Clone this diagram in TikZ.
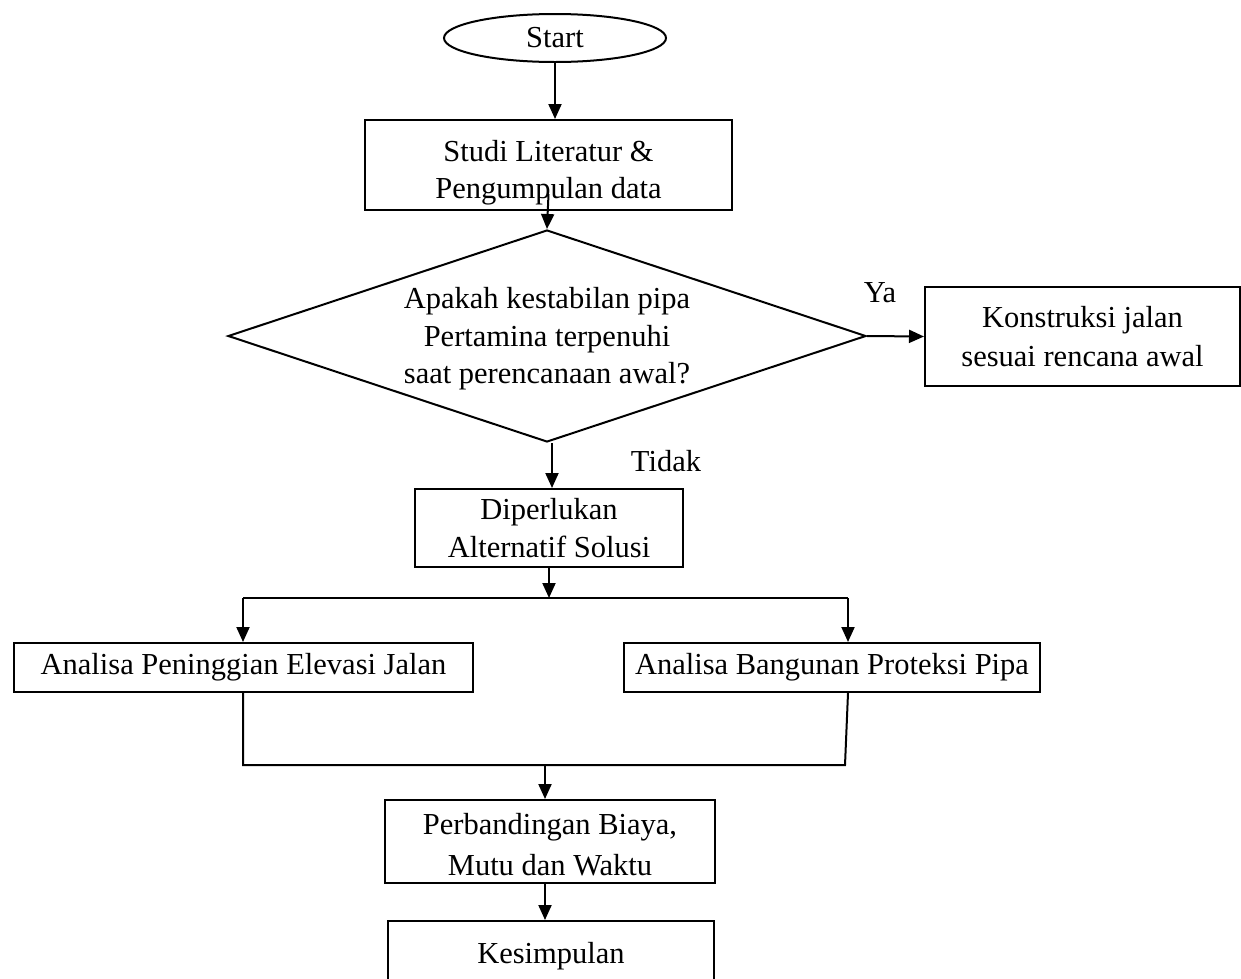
\documentclass[tikz,border=0pt]{standalone}
\usepackage{fontspec}
\setmainfont{Liberation Serif}
\usetikzlibrary{shapes.geometric,arrows.meta,calc}
\newcommand{\fz}[1]{\fontsize{30.5}{#1}\selectfont}
\tikzset{
  x=1pt, y=-1pt,
  every node/.style={font=\fz{38}},
  line/.style={line width=2pt},
  arr/.style={line width=2pt,-{Triangle[length=15pt,width=13pt]}},
  box/.style={draw, line width=2pt, rectangle, inner sep=0pt, align=center},
  lbl/.style={inner sep=0pt}
}
\begin{document}
\begin{tikzpicture}
\useasboundingbox (0,0) rectangle (1241,978);
\clip (0,0) rectangle (1241,978);
\node[draw, line width=2pt, ellipse, inner sep=0pt, minimum width=222pt, minimum height=48pt] (start) at (555,38) {Start};
\node[box, minimum width=367pt, minimum height=90pt, font=\fz{37}, text height=66pt, text depth=0pt] (studi) at (548.5,165) {Studi Literatur \&\\Pengumpulan data};
\node[draw, line width=2pt, diamond, aspect=3, inner sep=0pt, minimum width=638pt, minimum height=212pt, align=center, font=\fz{37.5}, text height=95pt, text depth=0pt] (dec) at (547,336) {Apakah kestabilan pipa\\Pertamina terpenuhi\\saat perencanaan awal?};
\node[box, minimum width=315pt, minimum height=99pt, font=\fz{39}] (konst) at (1082.5,336.5) {Konstruksi jalan\\sesuai rencana awal};
\node[box, minimum width=268pt, minimum height=78pt] (dip) at (549,528) {Diperlukan\\Alternatif Solusi};
\node[box, minimum width=459pt, minimum height=49pt] (ana1) at (243.5,667.5) {Analisa Peninggian Elevasi Jalan};
\node[box, minimum width=416pt, minimum height=49pt] (ana2) at (832,667.5) {Analisa Bangunan Proteksi Pipa};
\node[box, minimum width=330pt, minimum height=83pt, font=\fz{41}, text height=67pt, text depth=0pt] (perb) at (550,841.5) {Perbandingan Biaya,\\Mutu dan Waktu};
\node[box, minimum width=326pt, minimum height=70pt, anchor=north] (kes) at (551,920) {Kesimpulan};
\node[lbl] (ya) at (880,293) {Ya};
\node[lbl] (tidak) at (666,461) {Tidak};
% connectors
\draw[arr] (start.south) -- (start.south |- studi.north);
\coordinate (s1) at ($(studi.south)+(0,-17)$);
\draw[arr] (s1) -- (dec.north);
\draw[arr] (dec.east) -- (konst.west);
\coordinate (d1) at ($(dec.south)+(5,0)$);
\draw[arr] (d1) -- (d1 |- dip.north);
\coordinate (sp) at (549,598);
\coordinate (sl) at (243,598);
\coordinate (sr) at (848,598);
\draw[arr] (dip.south) -- (sp);
\draw[line] (sl) -- (sr);
\draw[arr] (sl) -- (sl |- ana1.north);
\draw[arr] (sr) -- (sr |- ana2.north);
\coordinate (ml) at (243,765);
\coordinate (mr) at (845,765);
\coordinate (mm) at (545,765);
\draw[line] (sl |- ana1.south) -- (ml) -- (mr) -- (sr |- ana2.south);
\draw[arr] (mm) -- (mm |- perb.north);
\coordinate (p1) at ($(perb.south)+(-5,0)$);
\draw[arr] (p1) -- (p1 |- kes.north);
\end{tikzpicture}
\end{document}
